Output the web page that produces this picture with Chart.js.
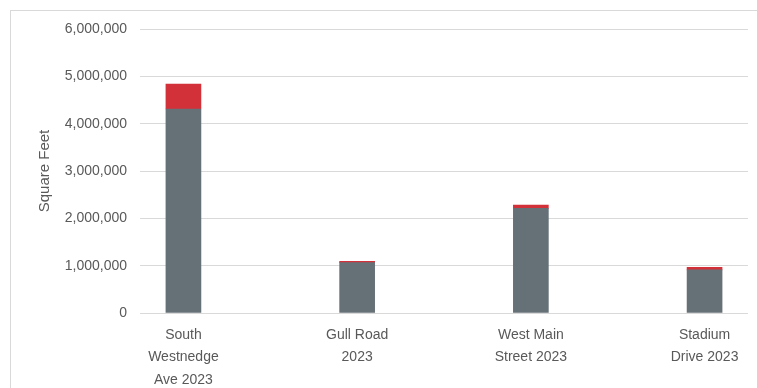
<!DOCTYPE html>
<html>
<head>
<meta charset="utf-8">
<script src="https://cdn.jsdelivr.net/npm/chart.js@4.4.0/dist/chart.umd.min.js"></script>
<style>
  html, body { margin: 0; padding: 0; background: #fff; overflow: hidden; }
  #frame { position: absolute; left: 10px; top: 10px; width: 900px; height: 500px;
           border-left: 1px solid #d9d9d9; border-top: 1px solid #d9d9d9; }
  #myChart { position: absolute; left: 0; top: 0; }
</style>
</head>
<body>
<div id="frame"></div>
<canvas id="myChart" width="757" height="388"></canvas>
<script>
// categories (multi-line labels as shown under each bar)
var categories = [
    ["South", "Westnedge", "Ave 2023"],
    ["Gull Road", "2023"],
    ["West Main", "Street 2023"],
    ["Stadium", "Drive 2023"]
];
// square feet, lower (gray) and upper (red) parts of each stack
var baseSqFt = [4310000, 1063000, 2212000, 910000];
var addedSqFt = [525000, 30000, 70000, 57000];
var yTicks = [0, 1000000, 2000000, 3000000, 4000000, 5000000, 6000000];

var textColor = "#595959";
var fontFamily = "'Liberation Sans', Arial, sans-serif";

function points(values) {
    return values.map(function (v, i) { return { x: i, y: v }; });
}

var ctx = document.getElementById("myChart");
var myChart = new Chart(ctx, {
    type: 'bar',
    data: {
        datasets: [
            {
                label: "Existing",
                data: points(baseSqFt),
                backgroundColor: "#667077",
                barThickness: 35
            },
            {
                label: "Additional",
                data: points(addedSqFt),
                backgroundColor: "#d3313a",
                barThickness: 35
            }
        ]
    },
    options: {
        responsive: false,
        animation: false,
        layout: {
            padding: { top: 29, right: 9, left: 0, bottom: 0 }
        },
        plugins: {
            legend: { display: false },
            tooltip: { enabled: false },
            title: { display: false }
        },
        scales: {
            x: {
                type: 'linear',
                stacked: true,
                offset: false,
                min: -0.25,
                max: 3.25,
                grid: { display: false },
                border: { display: false },
                afterBuildTicks: function (scale) {
                    scale.ticks = categories.map(function (c, i) { return { value: i }; });
                },
                afterFit: function (scale) { scale.height = 75; },
                ticks: {
                    autoSkip: false,
                    maxRotation: 0,
                    padding: 3,
                    color: textColor,
                    font: { family: fontFamily, size: 14, lineHeight: 1.6 },
                    callback: function (value) { return categories[value]; }
                }
            },
            y: {
                stacked: true,
                min: 0,
                max: 6000000,
                afterBuildTicks: function (scale) {
                    scale.ticks = yTicks.map(function (v) { return { value: v }; });
                },
                afterFit: function (scale) { scale.width = 140; },
                grid: { color: "#d9d9d9", lineWidth: 1, drawTicks: false },
                border: { display: false },
                ticks: {
                    padding: 13,
                    color: textColor,
                    font: { family: fontFamily, size: 14 },
                    callback: function (value) { return value.toLocaleString('en-US'); }
                },
                title: {
                    display: true,
                    text: "Square Feet",
                    color: textColor,
                    font: { family: fontFamily, size: 15 },
                    padding: { top: 36, bottom: 0 }
                }
            }
        }
    }
});
</script>
</body>
</html>
